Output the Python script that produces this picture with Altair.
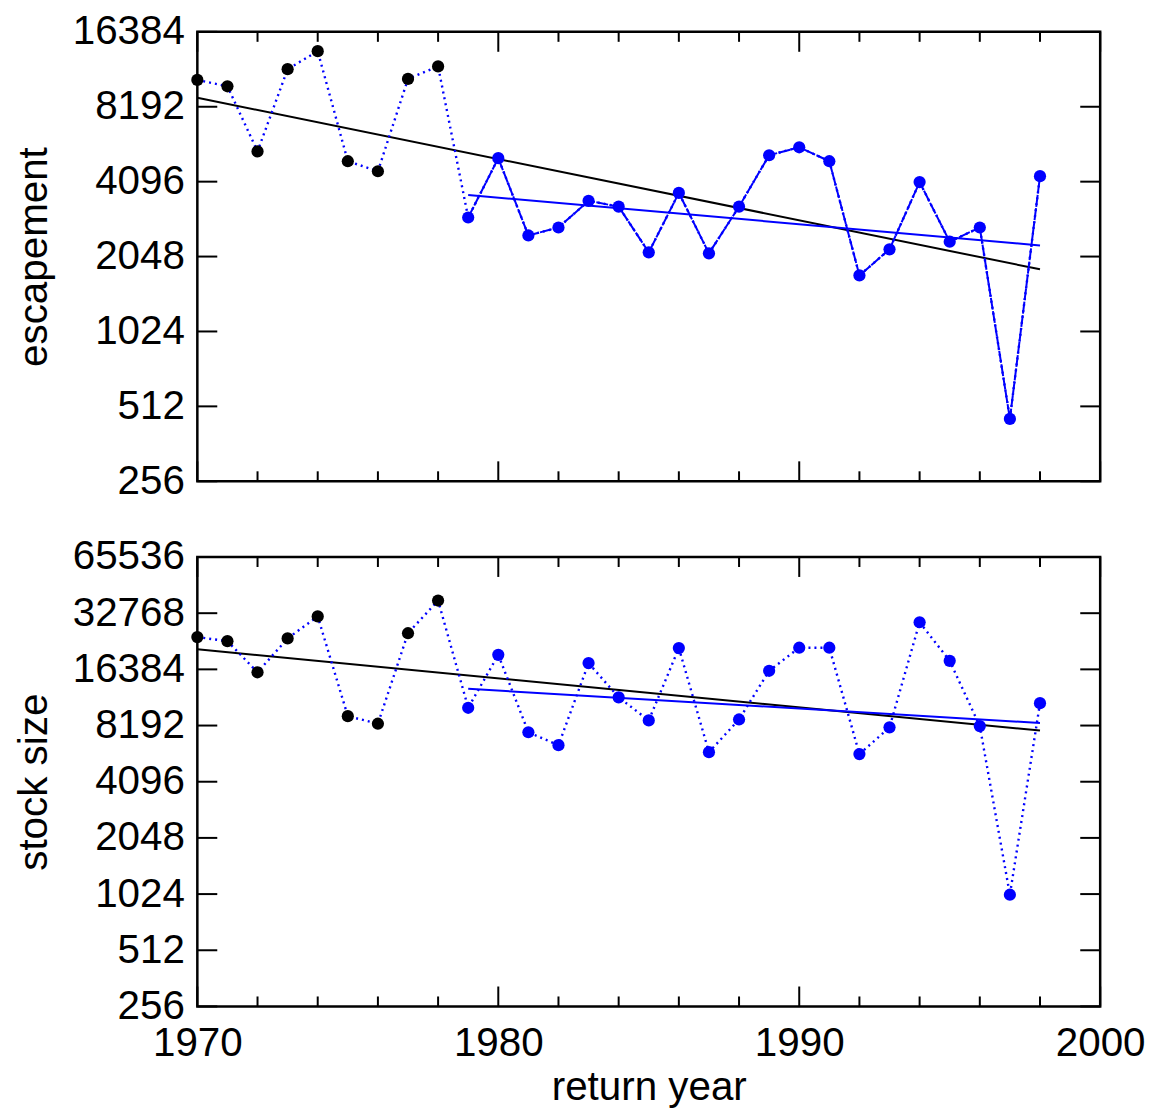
import altair as alt
import pandas as pd

# ---- data ----
years = list(range(1970, 1999))
escapement = [10500, 9900, 5420, 11600, 13700, 4950, 4510, 10600, 11900,
              2940, 5090, 2490, 2680, 3430, 3250, 2130, 3690, 2110, 3250,
              5230, 5630, 4950, 1720, 2190, 4080, 2350, 2680, 456, 4310]
stock_size = [24400, 23200, 15800, 24000, 31500, 9200, 8380, 25600, 38300,
              10200, 19600, 7540, 6430, 17700, 11600, 8730, 21300, 5900, 8830,
              16100, 21400, 21400, 5760, 8010, 29300, 18200, 8140, 1016, 10800]
last_early_year = 1978

trend_all_years = [1970, 1998]
trend_late_years = [1979, 1998]
esc_trend_all = [8900, 1820]
esc_trend_late = [3620, 2270]
stock_trend_all = [20970, 7700]
stock_trend_late = [12900, 8450]

x_major = [1970, 1980, 1990, 2000]
x_minor = [1972, 1974, 1976, 1978, 1982, 1984, 1986, 1988, 1992, 1994, 1996, 1998]
esc_ticks = [256, 512, 1024, 2048, 4096, 8192, 16384]
stock_ticks = [256, 512, 1024, 2048, 4096, 8192, 16384, 32768, 65536]

BLUE = "#0000FF"
W, H = 906, 451
FONT = "Liberation Sans"
FS = 40.5

df = pd.DataFrame({"year": years, "escapement": escapement, "stock": stock_size})
df["era"] = ["early" if y <= last_early_year else "late" for y in years]

xs = alt.Scale(domain=[1970, 2000], nice=False, zero=False)


def panel(col, ytitle, yticks, t_all, t_late, solid_late, show_x):
    ys = alt.Scale(type="log", base=2, domain=[yticks[0], yticks[-1]], nice=False)
    if show_x:
        xaxis = alt.Axis(values=x_major, format="d", ticks=False, tickSize=0,
                         domain=False, grid=False, labelFontSize=FS, labelFont=FONT,
                         labelPadding=17, labelFlush=False, labelOverlap=False,
                         title="return year", titleFontSize=FS, titleFont=FONT,
                         titlePadding=4, titleFontWeight="normal")
    else:
        xaxis = None
    yaxis = alt.Axis(values=yticks, format="d", ticks=False, tickSize=0,
                     domain=False, grid=False, labelFontSize=FS, labelFont=FONT,
                     labelPadding=13, labelFlush=False, labelOverlap=False,
                     title=ytitle, titleFontSize=FS, titleFont=FONT,
                     titlePadding=17, titleFontWeight="normal")

    def X(field="year"):
        return alt.X(f"{field}:Q", scale=xs, axis=xaxis)

    def Y(field):
        return alt.Y(f"{field}:Q", scale=ys, axis=yaxis)

    base = alt.Chart(df)
    trend_df = pd.DataFrame({
        "year": trend_all_years + trend_late_years,
        "v": t_all + t_late,
        "kind": ["all", "all", "late", "late"],
    })
    trends = alt.Chart(trend_df).mark_line(strokeWidth=2).encode(
        x=X(), y=Y("v"),
        color=alt.Color("kind:N", scale=alt.Scale(domain=["all", "late"],
                                                  range=["black", BLUE]), legend=None),
        detail="kind:N",
    )
    dotted = base.mark_line(color=BLUE, strokeWidth=2.4, strokeDash=[2, 4]).encode(
        x=X(), y=Y(col),
    )
    layers = [trends, dotted]
    if solid_late:
        solid = base.transform_filter(alt.datum.era == "late").mark_line(
            color=BLUE, strokeWidth=2, strokeDash=[12, 1.5]).encode(
            x=X(), y=Y(col),
        )
        layers.append(solid)
    points = base.mark_point(filled=True, size=150, opacity=1, shape="circle").encode(
        x=X(), y=Y(col),
        color=alt.Color("era:N", scale=alt.Scale(domain=["early", "late"],
                                                 range=["black", BLUE]), legend=None),
    )
    layers.append(points)

    # inside tick marks on all four sides
    xmaj = pd.DataFrame({"year": x_major})
    xmin = pd.DataFrame({"year": x_minor})
    ytk = pd.DataFrame({"v": yticks})
    tick_style = dict(color="black", strokeWidth=2)
    for d, L in ((xmaj, 20), (xmin, 10)):
        layers.append(alt.Chart(d).mark_rule(**tick_style).encode(
            x=X(), y=alt.value(H), y2=alt.value(H - L)))
        layers.append(alt.Chart(d).mark_rule(**tick_style).encode(
            x=X(), y=alt.value(0), y2=alt.value(L)))
    layers.append(alt.Chart(ytk).mark_rule(**tick_style).encode(
        y=Y("v"), x=alt.value(0), x2=alt.value(20)))
    layers.append(alt.Chart(ytk).mark_rule(**tick_style).encode(
        y=Y("v"), x=alt.value(W), x2=alt.value(W - 20)))

    return alt.layer(*layers).resolve_scale(color="independent").properties(width=W, height=H)


top = panel("escapement", "escapement", esc_ticks, esc_trend_all, esc_trend_late, True, False)
bottom = panel("stock", "stock size", stock_ticks, stock_trend_all, stock_trend_late, False, True)

chart = alt.vconcat(top, bottom, spacing=32).properties(
    padding={"left": 5, "top": 0, "right": 5, "bottom": 0},
    background="white",
).configure_view(stroke="black", strokeWidth=2.5).configure_axis(
    labelColor="black", titleColor="black"
)

chart.save("out.html", embed_options={"renderer": "svg", "actions": False})
